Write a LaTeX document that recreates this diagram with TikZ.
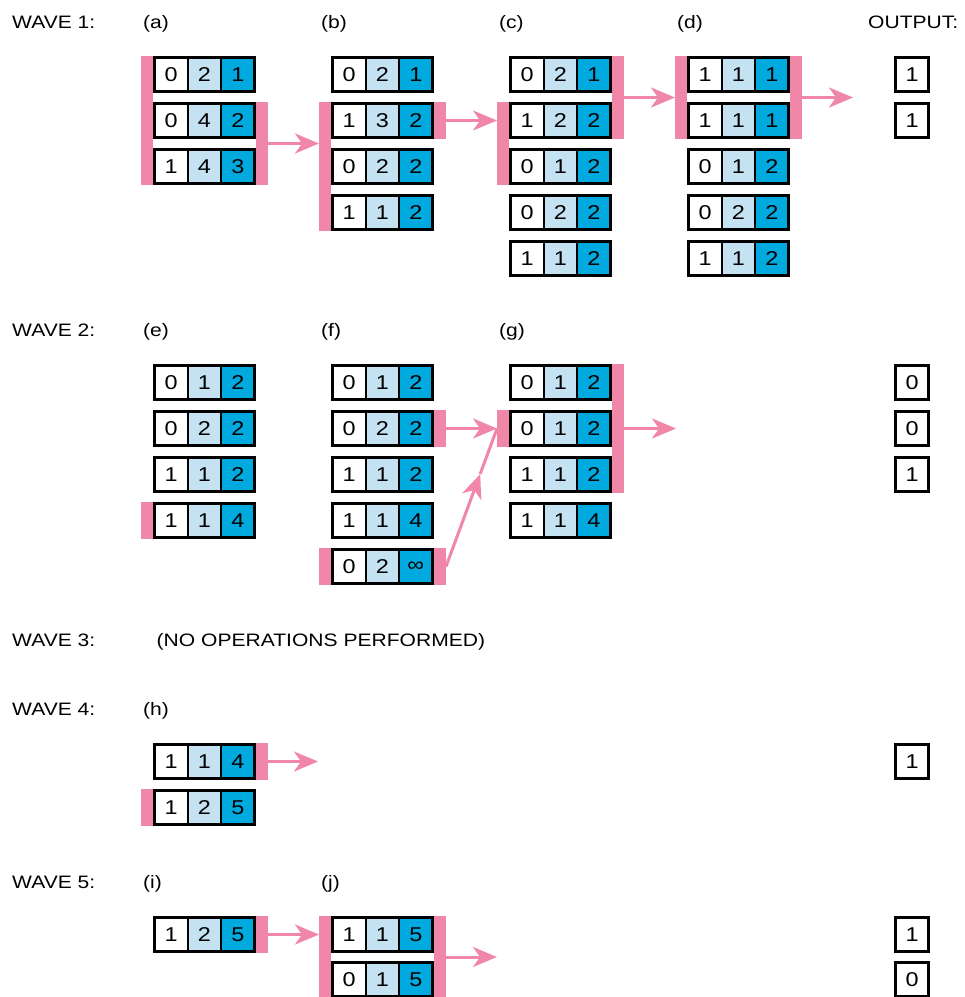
\documentclass[tikz,border=0pt]{standalone}
\usepackage{fontspec}
\setmainfont[FakeStretch=1.17]{Liberation Sans}
\usetikzlibrary{arrows.meta,calc}
\definecolor{pinkc}{HTML}{F087A8}
\definecolor{lblue}{HTML}{C4E2F2}
\definecolor{dblue}{HTML}{00A9DE}
\tikzset{
  cell/.style={minimum width=33.333pt, minimum height=34pt, inner sep=0pt, outer sep=0pt, font=\fontsize{20}{20}\selectfont},
  divline/.style={line width=1.5pt, black},
  frameline/.style={line width=3pt, black},
  pbar/.style={fill=pinkc, draw=none, minimum width=12pt, inner sep=0pt, outer sep=0pt, anchor=north west},
  outbox/.style={draw, line width=3pt, minimum width=33pt, minimum height=34pt, inner sep=0pt, outer sep=1.5pt, anchor=north west, font=\fontsize{20}{20}\selectfont},
  lbl/.style={anchor=base west, inner sep=0pt, font=\fontsize{18}{18}\selectfont},
  arr/.style={draw=pinkc, line width=3pt, -{Stealth[length=24pt,width=20pt,inset=7pt]}},
  pline/.style={draw=pinkc, line width=3pt},
}
\newcommand{\rowbox}[6]{%
  \node[cell, fill=white, anchor=north west] (#1-1) at (#2+1.5,#3+1.5) {#4};
  \node[cell, fill=lblue, anchor=north west] (#1-2) at (#1-1.north east) {#5};
  \node[cell, fill=dblue, anchor=north west] (#1-3) at (#1-2.north east) {#6};
  \draw[divline] (#1-1.north east) -- (#1-1.south east) (#1-2.north east) -- (#1-2.south east);
  \draw[frameline] (#1-1.north west) rectangle (#1-3.south east);
}
\begin{document}
\begin{tikzpicture}[x=1pt,y=-1pt]
\useasboundingbox (0,0) rectangle (965,997);
% ---------- labels
\node[lbl] (w1) at (12,28.3) {WAVE 1:};
\node[lbl] (la) at (143,28.3) {(a)};
\node[lbl] (lb) at (321,28.3) {(b)};
\node[lbl] (lc) at (499,28.3) {(c)};
\node[lbl] (ld) at (677,28.3) {(d)};
\node[lbl] (lo) at (868,28.3) {OUTPUT:};
\node[lbl] (w2) at (12,336.5) {WAVE 2:};
\node[lbl] (le) at (143,336.5) {(e)};
\node[lbl] (lf) at (321,336.5) {(f)};
\node[lbl] (lg) at (499,336.5) {(g)};
\node[lbl] (w3) at (12,646.7) {WAVE 3:};
\node[lbl] (nop) at (156.5,646.7) {(NO OPERATIONS PERFORMED)};
\node[lbl] (w4) at (12,715.7) {WAVE 4:};
\node[lbl] (lh) at (143,715.7) {(h)};
\node[lbl] (w5) at (12,888.5) {WAVE 5:};
\node[lbl] (li) at (143,888.5) {(i)};
\node[lbl] (lj) at (321,888.5) {(j)};
% ---------- pink bars (drawn first)
\node[pbar, minimum height=129pt] (aL) at (141,56) {};
\node[pbar, minimum height=83pt] (aR) at (256,102) {};
\node[pbar, minimum height=129pt] (bL) at (319,102) {};
\node[pbar, minimum height=37pt] (bR) at (434,102) {};
\node[pbar, minimum height=83pt] (cL) at (497,102) {};
\node[pbar, minimum height=83pt] (cR) at (612,56) {};
\node[pbar, minimum height=83pt] (dL) at (675,56) {};
\node[pbar, minimum height=83pt] (dR) at (790,56) {};
\node[pbar, minimum height=37pt] (eL) at (141,502) {};
\node[pbar, minimum height=37pt] (fR2) at (434,410) {};
\node[pbar, minimum height=37pt] (fL5) at (319,548) {};
\node[pbar, minimum height=37pt] (fR5) at (434,548) {};
\node[pbar, minimum height=37pt] (gL) at (497,410) {};
\node[pbar, minimum height=129pt] (gR) at (612,364) {};
\node[pbar, minimum height=37pt] (hR) at (256,743) {};
\node[pbar, minimum height=37pt] (hL) at (141,789) {};
\node[pbar, minimum height=37pt] (iR) at (256,916) {};
\node[pbar, minimum height=82pt] (jL) at (319,916) {};
\node[pbar, minimum height=82pt] (jR) at (434,916) {};
% ---------- wave 1
\rowbox{a1}{153}{56}{0}{2}{1}
\rowbox{a2}{153}{102}{0}{4}{2}
\rowbox{a3}{153}{148}{1}{4}{3}
\rowbox{b1}{331}{56}{0}{2}{1}
\rowbox{b2}{331}{102}{1}{3}{2}
\rowbox{b3}{331}{148}{0}{2}{2}
\rowbox{b4}{331}{194}{1}{1}{2}
\rowbox{c1}{509}{56}{0}{2}{1}
\rowbox{c2}{509}{102}{1}{2}{2}
\rowbox{c3}{509}{148}{0}{1}{2}
\rowbox{c4}{509}{194}{0}{2}{2}
\rowbox{c5}{509}{240}{1}{1}{2}
\rowbox{d1}{687}{56}{1}{1}{1}
\rowbox{d2}{687}{102}{1}{1}{1}
\rowbox{d3}{687}{148}{0}{1}{2}
\rowbox{d4}{687}{194}{0}{2}{2}
\rowbox{d5}{687}{240}{1}{1}{2}
\node[outbox] (o1) at (894,56) {1};
\node[outbox] (o2) at (894,102) {1};
% ---------- wave 2
\rowbox{e1}{153}{364}{0}{1}{2}
\rowbox{e2}{153}{410}{0}{2}{2}
\rowbox{e3}{153}{456}{1}{1}{2}
\rowbox{e4}{153}{502}{1}{1}{4}
\rowbox{f1}{331}{364}{0}{1}{2}
\rowbox{f2}{331}{410}{0}{2}{2}
\rowbox{f3}{331}{456}{1}{1}{2}
\rowbox{f4}{331}{502}{1}{1}{4}
\rowbox{f5}{331}{548}{0}{2}{∞}
\rowbox{g1}{509}{364}{0}{1}{2}
\rowbox{g2}{509}{410}{0}{1}{2}
\rowbox{g3}{509}{456}{1}{1}{2}
\rowbox{g4}{509}{502}{1}{1}{4}
\node[outbox] (o3) at (894,364) {0};
\node[outbox] (o4) at (894,410) {0};
\node[outbox] (o5) at (894,456) {1};
% ---------- wave 4
\rowbox{h1}{153}{743}{1}{1}{4}
\rowbox{h2}{153}{789}{1}{2}{5}
\node[outbox] (o6) at (894,743) {1};
% ---------- wave 5
\rowbox{i1}{153}{916}{1}{2}{5}
\rowbox{j1}{331}{916}{1}{1}{5}
\rowbox{j2}{331}{961}{0}{1}{5}
\node[outbox] (o7) at (894,916) {1};
\node[outbox] (o8) at (894,961) {0};
% ---------- arrows
\coordinate (dEnd) at (853,97.5);
\coordinate (gEnd) at (676,428.5);
\coordinate (hEnd) at (318,761.5);
\coordinate (jEnd) at (497,957);
\draw[arr] (aR.east) -- (bL.west |- aR.east);
\draw[arr] (bR.east) -- (cL.west |- bR.east);
\draw[arr] (cR.east) -- (dL.west);
\draw[arr] (dR.east) -- (dEnd);
\draw[arr] (fR2.east) -- (gL.west);
\coordinate (fm) at ($(fR5.east)!0.67!(gL.west)$);
\draw[arr] (fR5.east) -- (fm);
\draw[pline] (fm) -- (gL.west);
\draw[arr] (gR.east) -- (gEnd);
\draw[arr] (hR.east) -- (hEnd);
\draw[arr] (iR.east) -- (jL.west |- iR.east);
\draw[arr] (jR.east) -- (jEnd);
\end{tikzpicture}
\end{document}
